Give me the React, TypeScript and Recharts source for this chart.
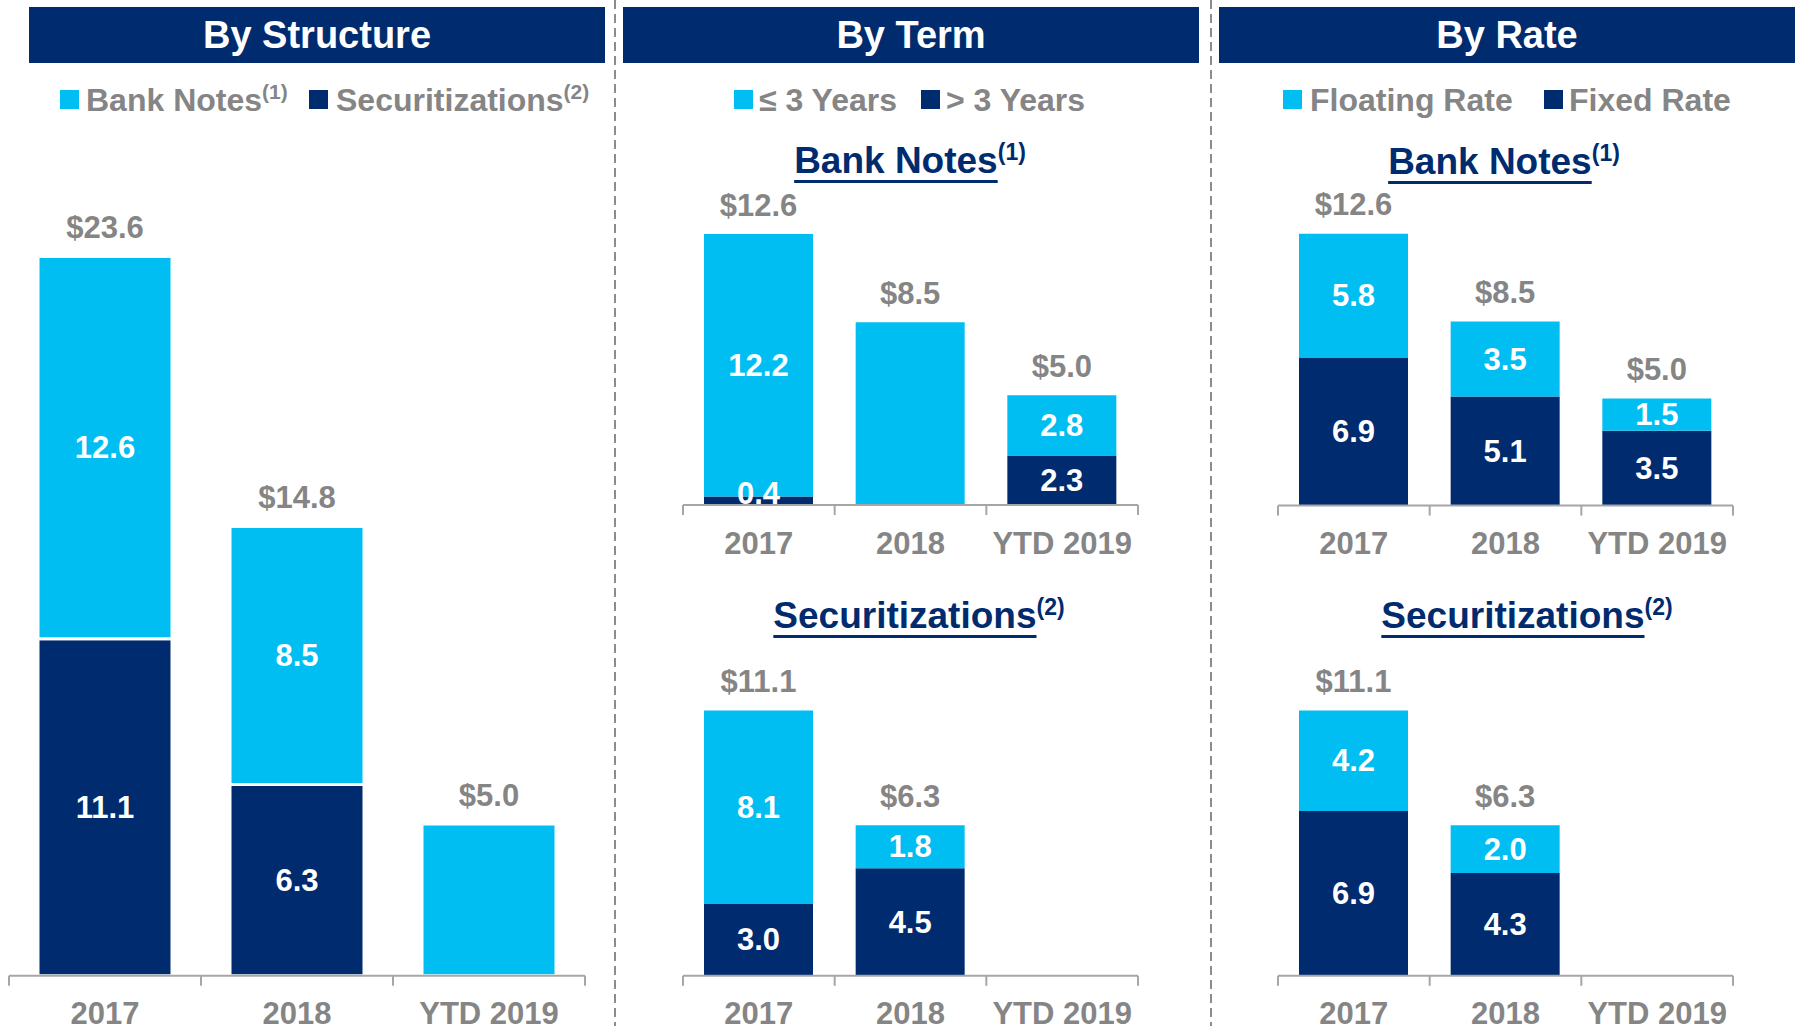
import { BarChart, Bar, XAxis, YAxis, LabelList } from "recharts";

const NAVY = "#002B6E";
const CYAN = "#00BEF2";
const GRAY = "#858585";
const AXIS = "#A6A6A6";
const FONT = "'Liberation Sans', Arial, sans-serif";

const years = ["2017", "2018", "YTD 2019"];

// By Structure
const structureBankNotes = [12.6, 8.5, 5.0];
const structureSecuritizations = [11.1, 6.3, 0];
const structureTotals = ["$23.6", "$14.8", "$5.0"];
const structureNotesLabelled = [true, true, false];

// By Term - Bank Notes
const termNotesShort = [12.2, 8.5, 2.8];
const termNotesLong = [0.4, 0, 2.3];
const termNotesTotals = ["$12.6", "$8.5", "$5.0"];
const termNotesShortLabelled = [true, false, true];

// By Term - Securitizations
const termSecShort = [8.1, 1.8, 0];
const termSecLong = [3.0, 4.5, 0];
const termSecTotals = ["$11.1", "$6.3", null];

// By Rate - Bank Notes
const rateNotesFloating = [5.8, 3.5, 1.5];
const rateNotesFixed = [6.9, 5.1, 3.5];
const rateNotesTotals = ["$12.6", "$8.5", "$5.0"];

// By Rate - Securitizations
const rateSecFloating = [4.2, 2.0, 0];
const rateSecFixed = [6.9, 4.3, 0];
const rateSecTotals = ["$11.1", "$6.3", null];

const buildRows = (light: number[], dark: number[], totals: (string | null)[], shown?: boolean[]) =>
  years.map((name, i) => ({
    name,
    light: light[i],
    dark: dark[i],
    lightLabel: shown && !shown[i] ? null : light[i],
    total: totals[i],
  }));

const box = (p: any) => {
  const vb = p.viewBox && p.viewBox.width !== undefined ? p.viewBox : p;
  const h = Math.abs(vb.height);
  const top = vb.height < 0 ? vb.y + vb.height : vb.y;
  return { x: vb.x, w: vb.width, top, h };
};

const segLabel = (p: any) => {
  if (!p.value) return null;
  const { x, w, top, h } = box(p);
  const cy = h < 20 ? top + h - 12 : top + h / 2;
  return (
    <text x={x + w / 2} y={cy} textAnchor="middle" dominantBaseline="central"
      fill="#fff" fontFamily={FONT} fontWeight="bold" fontSize={31}>
      {Number(p.value).toFixed(1)}
    </text>
  );
};

const totalLabel = (p: any) => {
  if (!p.value) return null;
  const { x, w, top } = box(p);
  return (
    <text x={x + w / 2} y={top - 29} textAnchor="middle" dominantBaseline="central"
      fill={GRAY} fontFamily={FONT} fontWeight="bold" fontSize={31}>
      {p.value}
    </text>
  );
};

const makeTick = (band: number) => (props: any) => {
  const { x, y, payload } = props;
  const last = years.indexOf(payload.value) === years.length - 1;
  return (
    <g>
      <line x1={x - band / 2} x2={x - band / 2} y1={y} y2={y + 10} stroke={AXIS} strokeWidth={2} />
      {last && <line x1={x + band / 2} x2={x + band / 2} y1={y} y2={y + 10} stroke={AXIS} strokeWidth={2} />}
      <text x={x} y={y + 38} textAnchor="middle" dominantBaseline="central"
        fill={GRAY} fontFamily={FONT} fontWeight="bold" fontSize={31}>
        {payload.value}
      </text>
    </g>
  );
};

interface StackProps {
  left: number;
  axisY: number;
  width: number;
  unit: number;
  dmax: number;
  rows: any[];
  barSize: number;
  sep: number;
}

const StackChart = ({ left, axisY, width, unit, dmax, rows, barSize, sep }: StackProps) => {
  const MT = 30, XH = 60, PAD = 4;
  const plotH = dmax * unit;
  const top = axisY - plotH - MT;
  const band = width / rows.length;
  return (
    <div style={{ position: "absolute", left: left - PAD, top }}>
      <BarChart width={width + 2 * PAD} height={MT + plotH + XH} data={rows}
        margin={{ top: MT, right: PAD, bottom: 0, left: PAD }} barSize={barSize}>
        <XAxis dataKey="name" height={XH} interval={0} tickSize={0} tickMargin={0} tickLine={false}
          axisLine={{ stroke: AXIS, strokeWidth: 2 }} tick={makeTick(band)} />
        <YAxis hide domain={[0, dmax]} allowDataOverflow />
        <Bar dataKey="dark" stackId="s" fill={NAVY} stroke={sep ? "#fff" : "none"} strokeWidth={sep}
          isAnimationActive={false}>
          <LabelList dataKey="dark" content={segLabel} />
        </Bar>
        <Bar dataKey="light" stackId="s" fill={CYAN} stroke={sep ? "#fff" : "none"} strokeWidth={sep}
          isAnimationActive={false}>
          <LabelList dataKey="lightLabel" content={segLabel} />
          <LabelList dataKey="total" content={totalLabel} />
        </Bar>
      </BarChart>
    </div>
  );
};

const Header = ({ left, width, title }: { left: number; width: number; title: string }) => (
  <div style={{
    position: "absolute", left, top: 7, width, height: 56, background: NAVY, color: "#fff",
    fontFamily: FONT, fontWeight: "bold", fontSize: 38, lineHeight: "56px", textAlign: "center",
  }}>{title}</div>
);

const Sup = ({ n, size }: { n: number; size: number }) => (
  <span style={{ fontSize: size, position: "relative", top: -size * 0.55 }}>({n})</span>
);

const LegendItem = ({ sq, tx, color, label, sup }: { sq: number; tx: number; color: string; label: string; sup?: number }) => (
  <>
    <div style={{ position: "absolute", left: sq, top: 90, width: 19, height: 19, background: color }} />
    <div style={{
      position: "absolute", left: tx, top: 100 - 16, height: 32, lineHeight: "32px", whiteSpace: "nowrap",
      fontFamily: FONT, fontWeight: "bold", fontSize: 32, color: GRAY,
    }}>{label}{sup ? <Sup n={sup} size={21} /> : null}</div>
  </>
);

const SubTitle = ({ cx, cy, label, sup }: { cx: number; cy: number; label: string; sup: number }) => (
  <div style={{
    position: "absolute", left: cx - 250, width: 500, top: cy - 18, height: 37, lineHeight: "37px",
    textAlign: "center", fontFamily: FONT, fontWeight: "bold", fontSize: 37, color: NAVY, whiteSpace: "nowrap",
  }}>
    <span style={{ textDecoration: "underline", textDecorationThickness: 3, textUnderlineOffset: 7 }}>{label}</span>
    <Sup n={sup} size={23} />
  </div>
);

export default function App() {
  return (
    <div style={{ position: "absolute", left: 0, top: 0, width: 1796, height: 1026, overflow: "hidden", background: "#fff" }}>
      <svg style={{ position: "absolute", left: 0, top: 0 }} width={1796} height={1026}>
        <line x1={615} x2={615} y1={0} y2={1026} stroke="#8C8C8C" strokeWidth={2} strokeDasharray="9 5" />
        <line x1={1211} x2={1211} y1={0} y2={1026} stroke="#8C8C8C" strokeWidth={2} strokeDasharray="9 5" />
      </svg>

      <Header left={29} width={576} title="By Structure" />
      <Header left={623} width={576} title="By Term" />
      <Header left={1219} width={576} title="By Rate" />

      <LegendItem sq={60} tx={86} color={CYAN} label="Bank Notes" sup={1} />
      <LegendItem sq={309} tx={336} color={NAVY} label="Securitizations" sup={2} />
      <LegendItem sq={734} tx={759} color={CYAN} label="≤ 3 Years" />
      <LegendItem sq={921} tx={946} color={NAVY} label="> 3 Years" />
      <LegendItem sq={1283} tx={1310} color={CYAN} label="Floating Rate" />
      <LegendItem sq={1544} tx={1569} color={NAVY} label="Fixed Rate" />

      <SubTitle cx={910} cy={160} label="Bank Notes" sup={1} />
      <SubTitle cx={919} cy={615} label="Securitizations" sup={2} />
      <SubTitle cx={1504} cy={161} label="Bank Notes" sup={1} />
      <SubTitle cx={1527} cy={615} label="Securitizations" sup={2} />

      <StackChart left={9} axisY={976} width={576} unit={30.35} dmax={25} barSize={134} sep={3}
        rows={buildRows(structureBankNotes, structureSecuritizations, structureTotals, structureNotesLabelled)} />

      <StackChart left={683} axisY={505} width={455} unit={21.5} dmax={14} barSize={109} sep={0}
        rows={buildRows(termNotesShort, termNotesLong, termNotesTotals, termNotesShortLabelled)} />
      <StackChart left={683} axisY={976} width={455} unit={23.9} dmax={12} barSize={109} sep={0}
        rows={buildRows(termSecShort, termSecLong, termSecTotals)} />

      <StackChart left={1278} axisY={506} width={455} unit={21.4} dmax={14} barSize={109} sep={0}
        rows={buildRows(rateNotesFloating, rateNotesFixed, rateNotesTotals)} />
      <StackChart left={1278} axisY={976} width={455} unit={23.9} dmax={12} barSize={109} sep={0}
        rows={buildRows(rateSecFloating, rateSecFixed, rateSecTotals)} />
    </div>
  );
}
